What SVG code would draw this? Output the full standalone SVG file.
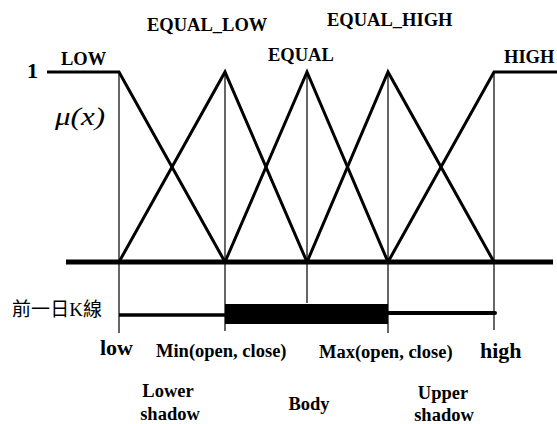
<svg xmlns="http://www.w3.org/2000/svg" width="557" height="424" viewBox="0 0 557 424">
<style>
.t{font-family:"Liberation Serif","Times New Roman",serif;font-weight:bold;fill:#000}
.m{stroke:#000;stroke-width:3;fill:none;stroke-linejoin:miter}
.v{stroke:#000;stroke-width:1.2;fill:none}
</style>
<rect width="557" height="424" fill="#fff"/>
<g id="axis">
<line x1="66" y1="262" x2="553" y2="262" stroke="#000" stroke-width="5"/>
<text class="t" x="27" y="78" font-size="22">1</text>
<text x="55" y="125" font-family="Liberation Serif, serif" font-style="italic" font-size="25" textLength="50" lengthAdjust="spacingAndGlyphs">μ(<tspan>x</tspan>)</text>
</g>
<g id="guides">
<line class="v" x1="119" y1="72" x2="119" y2="333"/>
<line class="v" x1="225" y1="72" x2="225" y2="331"/>
<line class="v" x1="307" y1="72" x2="307" y2="303"/>
<line class="v" x1="388" y1="72" x2="388" y2="333"/>
<line class="v" x1="494" y1="72" x2="494" y2="330"/>
</g>
<g id="LOW">
<polyline class="m" points="47,72 119,72 225,262"/>
<text class="t" x="61" y="65" font-size="18.5">LOW</text>
</g>
<g id="EQUAL_LOW">
<polyline class="m" points="119,262 225,72 307,262"/>
<text class="t" x="147" y="31" font-size="18.5">EQUAL_LOW</text>
</g>
<g id="EQUAL">
<polyline class="m" points="225,262 307,72 388,262"/>
<text class="t" x="268" y="61" font-size="18.5">EQUAL</text>
</g>
<g id="EQUAL_HIGH">
<polyline class="m" points="307,262 388,72 494,262"/>
<text class="t" x="327" y="26" font-size="18.5">EQUAL_HIGH</text>
</g>
<g id="HIGH">
<polyline class="m" points="388,262 494,72 557,72"/>
<text class="t" x="504" y="63" font-size="18.5">HIGH</text>
</g>
<g id="candle">
<text x="12" y="316" font-family="Liberation Serif, 'Noto Sans CJK TC', serif" font-size="19" textLength="90">前一日K線</text>
<line x1="119" y1="315" x2="225" y2="315" stroke="#000" stroke-width="3.5"/>
<rect x="225" y="304" width="163" height="20" fill="#000"/>
<line x1="388" y1="313" x2="495" y2="313" stroke="#000" stroke-width="4" stroke-linecap="round"/>
</g>
<g id="labels">
<text class="t" x="100" y="355" font-size="22">low</text>
<text class="t" x="156" y="357" font-size="18.5">Min(open, close)</text>
<text class="t" x="319" y="358" font-size="18.5">Max(open, close)</text>
<text class="t" x="480" y="358" font-size="22">high</text>
<text class="t" x="168" y="397" font-size="18.5" text-anchor="middle">Lower</text>
<text class="t" x="170" y="420" font-size="18.5" text-anchor="middle">shadow</text>
<text class="t" x="309" y="410" font-size="18.5" text-anchor="middle">Body</text>
<text class="t" x="443" y="399" font-size="18.5" text-anchor="middle">Upper</text>
<text class="t" x="444" y="421" font-size="18.5" text-anchor="middle">shadow</text>
</g>
</svg>
